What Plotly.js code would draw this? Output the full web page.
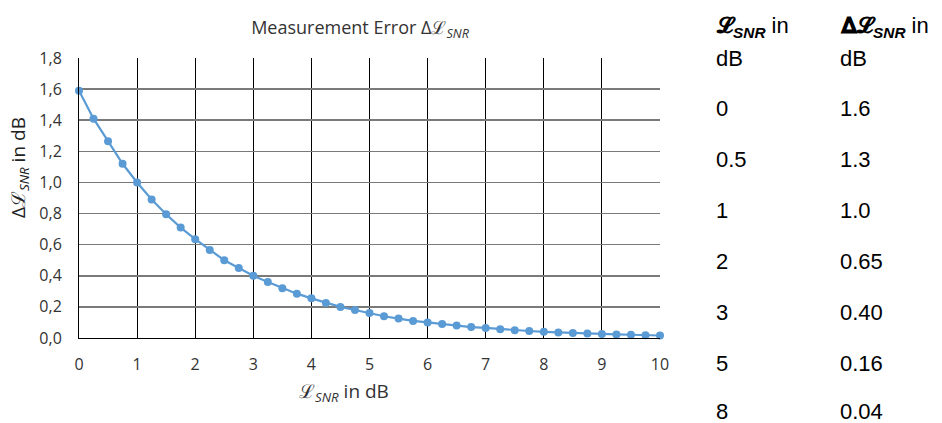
<!DOCTYPE html>
<html><head><meta charset="utf-8">
<script src="https://cdn.plot.ly/plotly-3.0.1.min.js"></script>
<style>html,body{margin:0;padding:0;background:#fff;}#chart{width:942px;height:423px;}</style>
</head><body><div id="chart"></div>
<script>
var snrDb = [0,0.25,0.5,0.75,1,1.25,1.5,1.75,2,2.25,2.5,2.75,3,3.25,3.5,3.75,4,4.25,4.5,4.75,5,5.25,5.5,5.75,6,6.25,6.5,6.75,7,7.25,7.5,7.75,8,8.25,8.5,8.75,9,9.25,9.5,9.75,10];
var errDb = [1.59,1.41,1.265,1.12,1.0,0.89,0.795,0.71,0.635,0.565,0.50,0.45,0.40,0.36,0.32,0.285,0.255,0.225,0.20,0.18,0.16,0.14,0.125,0.11,0.10,0.09,0.08,0.07,0.065,0.057,0.05,0.045,0.04,0.036,0.032,0.029,0.026,0.023,0.021,0.018,0.016];
var tableSnr = ['0','0.5','1','2','3','5','8'];
var tableErr = ['1.6','1.3','1.0','0.65','0.40','0.16','0.04'];

var fnt = 'Open Sans, Liberation Sans, Arial, sans-serif';
var tfont = 'Liberation Sans, Arial, sans-serif';

var annotations = [];
var rowY = [108,159,210,261,312,363,411];
function px(x){ return (x-79)/581; }
function py(y){ return (338-y)/280; }
function addText(txt, x, y) {
  annotations.push({text: txt, xref:'paper', yref:'paper', x: px(x), y: py(y),
    xanchor:'left', yanchor:'middle', showarrow:false, font:{family:tfont, size:22, color:'#000'}});
}
addText('<b>𝓛<sub><i>SNR</i></sub></b> in', 714, 27);
addText('dB', 714, 58);
addText('<b>𝚫𝓛<sub><i>SNR</i></sub></b> in', 838, 27);
addText('dB', 838, 58);
for (var i = 0; i < tableSnr.length; i++) {
  addText(tableSnr[i], 714, rowY[i]);
  addText(tableErr[i], 838, rowY[i]);
}
// axis titles placed as annotations to match reference position
annotations.push({text:'ℒ<sub><i>SNR</i></sub> in dB', xref:'paper', yref:'paper', x:px(344), y:py(392),
  xanchor:'center', yanchor:'middle', showarrow:false, font:{family:fnt, size:19, color:'#333'}});
annotations.push({text:'Δℒ<sub><i>SNR</i></sub> in dB', xref:'paper', yref:'paper', x:px(19), y:py(168),
  xanchor:'center', yanchor:'middle', textangle:-90, showarrow:false, font:{family:fnt, size:19, color:'#222'}});

var trace = {
  x: snrDb, y: errDb, type:'scatter', mode:'lines+markers', cliponaxis:false,
  line:{color:'#5B9BD5', width:2.2}, marker:{color:'#5B9BD5', size:8}
};
var layout = {
  width:942, height:423, margin:{l:79, r:282, t:58, b:85},
  paper_bgcolor:'#fff', plot_bgcolor:'#fff', showlegend:false, separators:',.',
  title:{text:'Measurement Error Δℒ<sub><i>SNR</i></sub>', x:(360)/942, xanchor:'center', y:0.935, yanchor:'middle',
    font:{family:fnt, size:18, color:'#333'}},
  xaxis:{range:[0,10], dtick:1, tick0:0, showgrid:true, gridcolor:'#000', gridwidth:1,
    showline:true, linecolor:'#000', linewidth:1, zeroline:false, ticks:'', ticklabelstandoff:12,
    tickfont:{family:fnt, size:16, color:'#333'}},
  yaxis:{range:[0,1.8], dtick:0.2, tick0:0, tickformat:'.1f', showgrid:true, gridcolor:'#7a7a7a', gridwidth:1.5,
    showline:true, linecolor:'#000', linewidth:1, zeroline:false, ticks:'', ticklabelstandoff:13,
    tickfont:{family:fnt, size:16, color:'#333'}},
  annotations: annotations
};
Plotly.newPlot('chart', [trace], layout, {displayModeBar:false, staticPlot:true});
</script></body></html>
